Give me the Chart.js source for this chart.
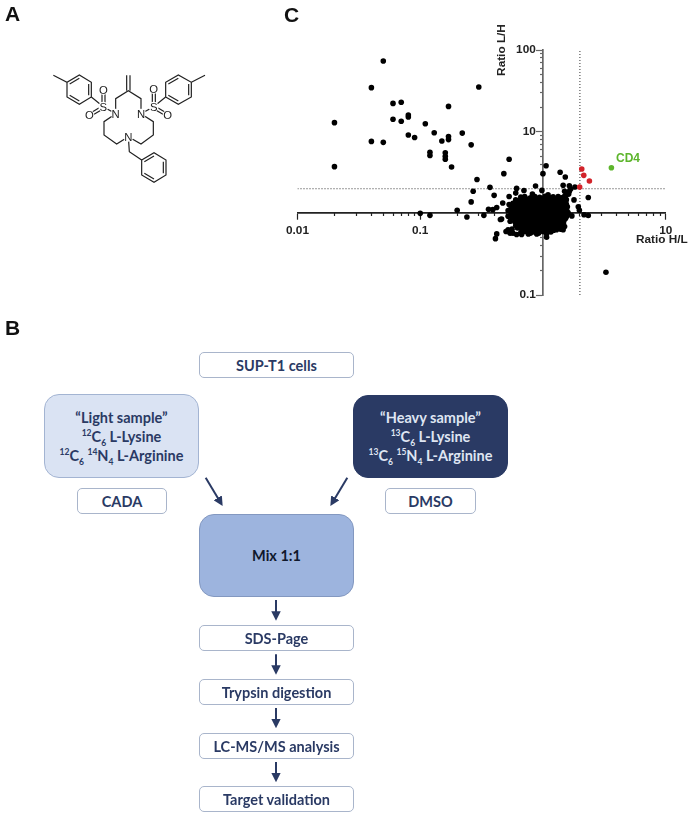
<!DOCTYPE html>
<html>
<head>
<meta charset="utf-8">
<script src="https://cdn.jsdelivr.net/npm/chart.js@4"></script>
<style>
    html, body { margin: 0; padding: 0; background: #fff; }
    #page { position: relative; width: 688px; height: 815px; overflow: hidden; }
    #ratioChart { position: absolute; left: 0; top: 0; }
    .letter { position: absolute; font: bold 21px "Liberation Sans", Arial, sans-serif; color: #111; line-height: 24px; }
    .axisText { position: absolute; font: bold 11.8px "Liberation Sans", Arial, sans-serif; color: #222; white-space: nowrap; }
    .box {
        position: absolute; box-sizing: border-box; display: flex; flex-direction: column;
        align-items: center; justify-content: center; text-align: center;
        font: bold 14.5px Lato, sans-serif; color: #2a3a64; background: #fff;
        border: 1px solid #a9b5cb; border-radius: 5px; line-height: 19px;
    }
    .box sup, .box sub { font-size: 8.5px; line-height: 0; }
    .big { border-radius: 15px; }
    #arrows, #molecule { position: absolute; left: 0; top: 0; }
</style>
</head>
<body>
<div id="page">
    <canvas id="ratioChart" width="688" height="815"></canvas>

    <div class="letter" style="left:5px;top:2px">A</div>
    <div class="letter" style="left:5px;top:316px">B</div>
    <div class="letter" style="left:284px;top:3px">C</div>

    <div class="axisText" style="left:636px;top:232px">Ratio H/L</div>
    <div class="axisText" style="left:475px;top:43px;width:52px;text-align:center;transform:rotate(-90deg)">Ratio L/H</div>
    <div class="axisText" style="left:616px;top:151px;color:#5db52c;font-size:12px">CD4</div>

    <svg id="molecule" width="220" height="200" viewBox="0 0 660 600" fill="none" stroke="#222" stroke-width="3.6">
        <path d="M160 226L201 247L238 225L274 247V291L238 313L201 291V247M209 252L238 235M266 252V286M209 286L238 303"/>
        <path d="M274 291L310 320L347 341V296L385 272L423 296V341L461 320L497 291"/>
        <path d="M380 272V226M390 272V226"/>
        <path d="M306 320V270M315 320V270M310 316L268 341M314 324L272 349"/>
        <path d="M457 320V268M466 320V268M461 316L503 341M457 324L499 349"/>
        <path d="M497 291V247L535 225L574 247V291L535 313L497 291M505 252L535 235M566 252V286M505 286L535 303M574 247L615 226"/>
        <path d="M347 341L312 365V405L350 432L385 410L423 432L460 405V365L423 341"/>
        <path d="M385 410L388 455L425 480L462 458L498 480V525L462 547L425 525V480M433 485L462 468M490 485V520M433 520L462 537"/>
        <g fill="#fff" stroke="none">
            <circle cx="310" cy="320" r="15"/><circle cx="461" cy="320" r="15"/>
            <circle cx="347" cy="341" r="15"/><circle cx="423" cy="341" r="15"/>
            <circle cx="385" cy="410" r="15"/>
            <circle cx="310" cy="270" r="15"/><circle cx="461" cy="267" r="15"/>
            <circle cx="268" cy="345" r="15"/><circle cx="503" cy="345" r="15"/>
        </g>
        <g fill="#222" stroke="none" font-family="Liberation Sans, Arial, sans-serif" font-size="34" text-anchor="middle">
            <text x="310" y="332">S</text><text x="461" y="332">S</text>
            <text x="347" y="353">N</text><text x="423" y="353">N</text>
            <text x="385" y="422">N</text>
            <text x="310" y="282">O</text><text x="461" y="279">O</text>
            <text x="268" y="357">O</text><text x="503" y="357">O</text>
        </g>
    </svg>

    <div class="box" style="left:199px;top:352px;width:155px;height:26px">SUP-T1 cells</div>
    <div class="box big" style="left:44px;top:394px;width:155px;height:84px;background:#dae3f3;border-color:#a3b4d2">
        <div>“Light sample”</div>
        <div><sup>12</sup>C<sub>6</sub> L-Lysine</div>
        <div><sup>12</sup>C<sub>6</sub> <sup>14</sup>N<sub>4</sub> L-Arginine</div>
    </div>
    <div class="box big" style="left:353px;top:395px;width:155px;height:83px;background:#2a3a64;border-color:#2a3a64;color:#dfe5f2">
        <div>“Heavy sample”</div>
        <div><sup>13</sup>C<sub>6</sub> L-Lysine</div>
        <div><sup>13</sup>C<sub>6</sub> <sup>15</sup>N<sub>4</sub> L-Arginine</div>
    </div>
    <div class="box" style="left:77px;top:488px;width:90px;height:26px">CADA</div>
    <div class="box" style="left:385px;top:488px;width:91px;height:26px">DMSO</div>
    <div class="box big" style="left:199px;top:514px;width:155px;height:83px;background:#9db4de;border-color:#8398c0;color:#10182c">Mix 1:1</div>
    <div class="box" style="left:199px;top:625px;width:155px;height:26px">SDS-Page</div>
    <div class="box" style="left:199px;top:679px;width:155px;height:26px">Trypsin digestion</div>
    <div class="box" style="left:199px;top:733px;width:155px;height:26px">LC-MS/MS analysis</div>
    <div class="box" style="left:199px;top:786px;width:155px;height:26px">Target validation</div>

    <svg id="arrows" width="688" height="815" fill="none" stroke="#2a3a64" stroke-width="2">
        <defs>
            <marker id="head" viewBox="0 0 10 10" refX="6" refY="5" markerWidth="9.5" markerHeight="9.5" markerUnits="userSpaceOnUse" orient="auto">
                <path d="M0 0L10 5L0 10z" fill="#2a3a64" stroke="none"/>
            </marker>
        </defs>
        <path d="M205.7 477.7L220.7 502.7" marker-end="url(#head)"/>
        <path d="M347.3 477.7L332.3 502.7" marker-end="url(#head)"/>
        <path d="M276 600V616.9" marker-end="url(#head)"/>
        <path d="M276 654.3V670.9" marker-end="url(#head)"/>
        <path d="M276 708V724.5" marker-end="url(#head)"/>
        <path d="M276 762V778.5" marker-end="url(#head)"/>
    </svg>
</div>

<script>
// variables
const xMajorTicks = [0.01, 0.1, 1, 10];
const xMinorTicks = [0.02, 0.03, 0.04, 0.05, 0.06, 0.07, 0.08, 0.09, 0.2, 0.3, 0.4, 0.5, 0.6, 0.7, 0.8, 0.9, 2, 3, 4, 5, 6, 7, 8, 9];
const yMajorTicks = [0.1, 1, 10, 100];
const yMinorTicks = [0.2, 0.3, 0.4, 0.5, 0.6, 0.7, 0.8, 0.9, 2, 3, 4, 5, 6, 7, 8, 9, 20, 30, 40, 50, 60, 70, 80, 90];
const xLabels = { 0.01: "0.01", 0.1: "0.1", 10: "10" };
const yLabels = { 0.1: "0.1", 10: "10", 100: "100" };
const cutoffHL = 2;
const cutoffLH = 2;
// y tick labels sit on their own axis, just left of the tick marks
const yLabelColumn = 0.874;

// CD4 and the other hits, [H/L, L/H]
const cd4Point = [[3.61, 3.62]];
const redPoints = [[2.07, 3.49], [2.15, 2.92], [2.39, 2.49], [1.99, 2.10]];

// proteins outside the main cloud, [H/L, L/H]
const outerPoints = [
    [0.02, 12.9], [0.02, 3.73], [0.04, 34.6], [0.04, 7.6], [0.05, 73.3], [0.05, 7.4], [0.06, 22.2], [0.06, 14.2],
    [0.07, 22.9], [0.07, 13.4], [0.08, 16.0], [0.08, 15.1], [0.08, 9.1], [0.09, 8.5], [0.11, 12.5], [0.13, 9.7],
    [0.12, 5.6], [0.12, 5.1], [0.15, 7.7], [0.16, 5.5], [0.16, 5.0], [0.16, 4.6], [0.17, 20.4], [0.17, 8.7],
    [0.17, 8.0], [0.18, 3.7], [0.22, 9.6], [0.26, 6.9], [0.30, 35.2], [0.53, 4.6], [0.48, 3.06], [0.29, 2.6],
    [0.27, 1.86], [0.26, 1.38], [0.37, 2.08], [0.40, 1.66], [0.47, 1.34], [0.53, 1.61], [0.61, 2.02], [0.60, 1.77],
    [0.70, 1.9], [0.87, 2.16], [1.0, 3.06], [1.06, 3.83], [1.38, 3.18], [1.52, 2.79], [1.46, 2.2], [1.64, 2.18],
    [1.82, 2.1], [1.64, 1.86], [1.50, 1.86], [1.49, 1.61], [1.79, 1.46], [2.34, 1.56], [1.94, 1.2], [1.98, 1.09],
    [2.16, 0.96], [2.34, 0.94], [1.72, 0.93], [0.1, 1.0], [0.12, 0.945], [0.2, 1.09], [0.24, 0.9], [0.33, 0.945],
    [0.36, 1.12], [0.39, 1.11], [0.42, 1.18], [0.45, 0.84], [0.46, 0.85], [0.42, 0.56], [0.41, 0.49], [0.50, 0.6],
    [0.54, 0.57], [0.61, 0.55], [1.07, 0.51], [1.07, 0.56], [3.26, 0.19],
    [0.82, 1.72], [1.1, 1.69], [0.98, 1.91], [1.62, 1.72], [1.68, 1.98], [1.58, 1.78], [0.52, 0.63], [0.57, 0.57],
    [0.54, 0.8], [0.52, 0.92], [0.52, 1.08], [0.53, 1.28], [0.89, 0.56], [0.76, 0.56], [0.67, 0.55], [1.46, 0.63]
];

// main cloud around 1:1, [H/L, L/H]
const cloudPoints = [
    [0.66, 1.58], [0.71, 1.61], [0.79, 1.55], [0.86, 1.6], [0.94, 1.57], [1.04, 1.62], [1.12, 1.56], [1.21, 1.59], [1.33, 1.6], [1.41, 1.55], [1.52, 1.58],
    [0.69, 1.52], [0.76, 1.5], [0.83, 1.53], [0.90, 1.51], [0.98, 1.52], [1.07, 1.5], [1.15, 1.53], [1.24, 1.51], [1.37, 1.52], [1.48, 1.5],
    [0.60, 1.46], [0.64, 1.44], [0.69, 1.48], [0.75, 1.45], [0.81, 1.47], [0.88, 1.43], [0.95, 1.48], [1.01, 1.45], [1.09, 1.47], [1.18, 1.44], [1.26, 1.48], [1.36, 1.46], [1.47, 1.44], [1.55, 1.47],
    [0.62, 1.39], [0.67, 1.4], [0.73, 1.38], [0.79, 1.4], [0.86, 1.39], [0.92, 1.41], [1.0, 1.38], [1.08, 1.4], [1.16, 1.39], [1.25, 1.41], [1.34, 1.38], [1.44, 1.4], [1.53, 1.39],
    [0.57, 1.33], [0.61, 1.35], [0.66, 1.31], [0.72, 1.34], [0.77, 1.32], [0.83, 1.36], [0.90, 1.3], [0.98, 1.33], [1.06, 1.35], [1.14, 1.31], [1.23, 1.34], [1.32, 1.32], [1.42, 1.35], [1.51, 1.31],
    [0.58, 1.27], [0.62, 1.28], [0.68, 1.26], [0.74, 1.28], [0.80, 1.27], [0.85, 1.29], [0.93, 1.26], [1.0, 1.28], [1.08, 1.27], [1.17, 1.29], [1.26, 1.26], [1.35, 1.28], [1.46, 1.27], [1.55, 1.29],
    [0.55, 1.21], [0.59, 1.19], [0.64, 1.23], [0.70, 1.2], [0.76, 1.22], [0.82, 1.18], [0.87, 1.23], [0.96, 1.2], [1.03, 1.22], [1.11, 1.19], [1.19, 1.23], [1.28, 1.21], [1.38, 1.18], [1.49, 1.22], [1.58, 1.2],
    [0.57, 1.15], [0.61, 1.16], [0.66, 1.14], [0.72, 1.16], [0.78, 1.15], [0.84, 1.14], [0.90, 1.16], [0.98, 1.15], [1.05, 1.14], [1.13, 1.16], [1.22, 1.15], [1.31, 1.14], [1.41, 1.16], [1.52, 1.15],
    [0.54, 1.09], [0.58, 1.11], [0.63, 1.07], [0.68, 1.1], [0.74, 1.08], [0.80, 1.12], [0.86, 1.06], [0.93, 1.09], [1.00, 1.11], [1.08, 1.07], [1.16, 1.1], [1.25, 1.08], [1.35, 1.11], [1.45, 1.07], [1.56, 1.09],
    [0.56, 1.03], [0.6, 1.04], [0.65, 1.02], [0.71, 1.04], [0.77, 1.03], [0.83, 1.02], [0.89, 1.04], [0.96, 1.03], [1.04, 1.02], [1.12, 1.04], [1.2, 1.03], [1.3, 1.02], [1.4, 1.04], [1.5, 1.03], [1.6, 1.02],
    [0.55, 0.98], [0.60, 0.96], [0.65, 1.0], [0.71, 0.97], [0.77, 0.99], [0.83, 0.95], [0.89, 1.0], [0.96, 0.97], [1.04, 0.99], [1.12, 0.96], [1.21, 1.0], [1.30, 0.98], [1.40, 0.95], [1.50, 0.99], [1.59, 0.97],
    [0.58, 0.93], [0.63, 0.92], [0.69, 0.94], [0.75, 0.93], [0.81, 0.92], [0.87, 0.94], [0.94, 0.93], [1.02, 0.92], [1.1, 0.94], [1.19, 0.93], [1.28, 0.92], [1.37, 0.94], [1.47, 0.93], [1.56, 0.92],
    [0.56, 0.88], [0.61, 0.9], [0.66, 0.87], [0.72, 0.89], [0.78, 0.86], [0.84, 0.9], [0.91, 0.87], [0.99, 0.89], [1.07, 0.86], [1.15, 0.9], [1.24, 0.88], [1.34, 0.85], [1.44, 0.89], [1.53, 0.87],
    [0.6, 0.83], [0.66, 0.84], [0.72, 0.82], [0.78, 0.84], [0.84, 0.83], [0.9, 0.82], [0.98, 0.84], [1.05, 0.83], [1.13, 0.82], [1.22, 0.84], [1.31, 0.83], [1.41, 0.82], [1.5, 0.84],
    [0.59, 0.79], [0.63, 0.77], [0.69, 0.8], [0.75, 0.78], [0.81, 0.81], [0.87, 0.77], [0.94, 0.8], [1.02, 0.78], [1.10, 0.81], [1.18, 0.77], [1.27, 0.8], [1.37, 0.78], [1.47, 0.76],
    [0.62, 0.75], [0.68, 0.74], [0.74, 0.76], [0.8, 0.75], [0.87, 0.74], [0.93, 0.76], [1.01, 0.75], [1.09, 0.74], [1.17, 0.76], [1.26, 0.75], [1.36, 0.74], [1.46, 0.75],
    [0.60, 0.71], [0.65, 0.73], [0.71, 0.7], [0.77, 0.72], [0.84, 0.69], [0.90, 0.73], [0.97, 0.7], [1.05, 0.72], [1.13, 0.69], [1.22, 0.72], [1.31, 0.7], [1.42, 0.72], [1.50, 0.69],
    [0.64, 0.67], [0.7, 0.68], [0.76, 0.66], [0.82, 0.68], [0.91, 0.67], [0.99, 0.66], [1.07, 0.68], [1.16, 0.67], [1.25, 0.66], [1.34, 0.68], [1.44, 0.67],
    [0.56, 0.64], [0.62, 0.66], [0.68, 0.63], [0.74, 0.65], [0.80, 0.62], [0.88, 0.66], [0.95, 0.63], [1.03, 0.65], [1.12, 0.62], [1.20, 0.65], [1.29, 0.63], [1.40, 0.64],
    [0.69, 0.61], [0.76, 0.62], [0.83, 0.6], [0.89, 0.62], [0.96, 0.61], [1.04, 0.6], [1.12, 0.61], [1.22, 0.62],
    [0.55, 0.6], [0.66, 0.58], [0.72, 0.6], [0.79, 0.57], [0.85, 0.59], [0.92, 0.57], [1.00, 0.6], [1.07, 0.58], [1.16, 0.59]
];

// [{x, y}] for chart js
function toPoints(list) {
    return list.map(function (p) {
        return { x: p[0], y: p[1] };
    });
}

function dotSet(list, color) {
    return {
        data: toPoints(list),
        pointRadius: 2.8,
        pointBackgroundColor: color,
        pointBorderWidth: 0,
        xAxisID: "x",
        yAxisID: "y"
    };
}

function cutoffLine(points) {
    return {
        data: toPoints(points),
        showLine: true,
        borderColor: "#333",
        borderWidth: 1,
        borderDash: [1, 2],
        pointRadius: 0,
        xAxisID: "x",
        yAxisID: "y"
    };
}

function logAxis(axis, ticks, labels, position, length, showBorder, color) {
    return {
        type: "logarithmic",
        axis: axis,
        position: position,
        min: axis === "x" ? xMajorTicks[0] : yMajorTicks[0],
        max: axis === "x" ? xMajorTicks[3] : yMajorTicks[3],
        afterBuildTicks: function (scale) {
            scale.ticks = ticks.map(function (value) {
                return { value: value };
            });
        },
        border: { display: showBorder, color: color, width: 1.7 },
        grid: { drawOnChartArea: false, drawTicks: length > 0, tickLength: length, tickColor: color, tickWidth: 1.2 },
        ticks: {
            autoSkip: false,
            maxRotation: 0,
            padding: 4,
            color: "#222",
            font: { family: "Liberation Sans", size: 11.8, weight: "bold" },
            callback: function (value) {
                return labels[value] || "";
            }
        }
    };
}

new Chart(document.getElementById("ratioChart").getContext("2d"), {
    type: "scatter",
    data: {
        datasets: [
            dotSet(cd4Point, "#5db52c"),
            dotSet(redPoints, "#d2232a"),
            dotSet(outerPoints, "#000"),
            dotSet(cloudPoints, "#000"),
            cutoffLine([[cutoffHL, yMajorTicks[0]], [cutoffHL, yMajorTicks[3]]]),
            cutoffLine([[xMajorTicks[0], cutoffLH], [xMajorTicks[3], cutoffLH]])
        ]
    },
    options: {
        responsive: false,
        animation: false,
        layout: { padding: { left: 297.5, right: 22.3, top: 50, bottom: 520 } },
        plugins: { legend: { display: false }, tooltip: { enabled: false } },
        scales: {
            x: logAxis("x", xMajorTicks, xLabels, { y: 1 }, 6, true, "#222"),
            y: logAxis("y", yMajorTicks, {}, { x: 1 }, 6, true, "#666"),
            xMinor: logAxis("x", xMinorTicks, {}, { y: 1 }, 3, false, "#222"),
            yMinor: logAxis("y", yMinorTicks, {}, { x: 1 }, 3, false, "#666"),
            yText: logAxis("y", yMajorTicks, yLabels, { x: yLabelColumn }, 0, false, "#666")
        }
    }
});
</script>
</body>
</html>
